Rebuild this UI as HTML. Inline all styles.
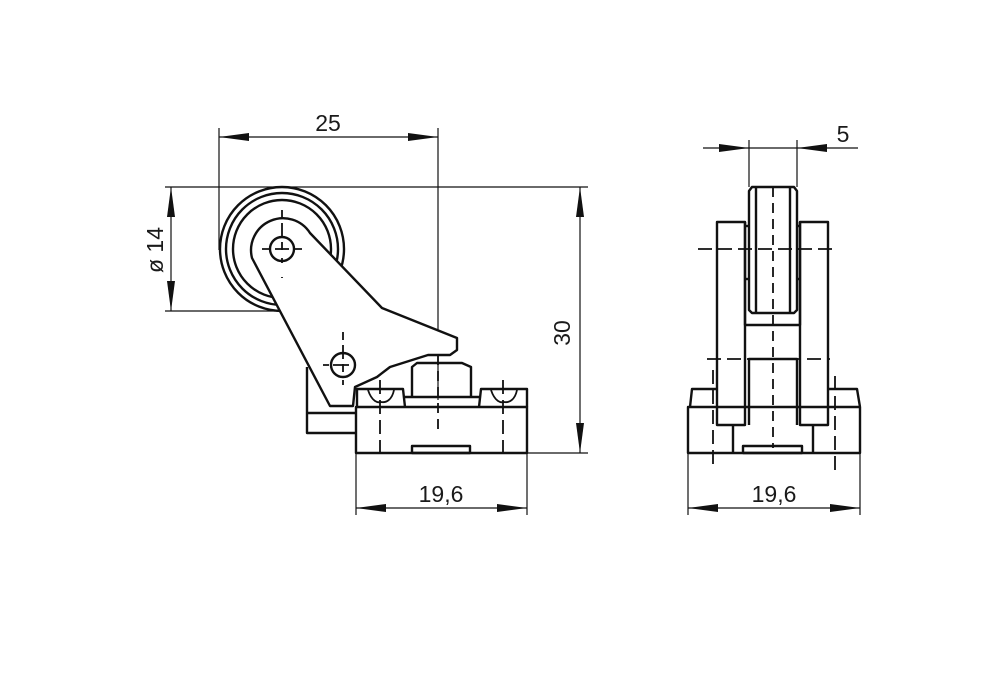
<!DOCTYPE html>
<html><head><meta charset="utf-8"><style>
html,body{margin:0;padding:0;background:#fff;}
svg{display:block;}
text{font-family:"Liberation Sans",sans-serif;font-size:23px;fill:#1a1a1a;}
</style></head><body>
<svg width="1000" height="697" viewBox="0 0 1000 697" xmlns="http://www.w3.org/2000/svg">
<defs>
<marker id="a" viewBox="0 0 30 8" refX="30" refY="4" markerWidth="30" markerHeight="8" markerUnits="userSpaceOnUse" orient="auto-start-reverse">
<path d="M0,0 L30,4 L0,8 Z" fill="#111"/>
</marker>
</defs>
<g fill="none" stroke="#111" stroke-width="1.2">
<line x1="219" y1="128" x2="219" y2="250"/>
<line x1="438" y1="128" x2="438" y2="400"/>
<line x1="219" y1="137" x2="438" y2="137" marker-start="url(#a)" marker-end="url(#a)"/>
<line x1="165" y1="187" x2="588" y2="187"/>
<line x1="165" y1="311" x2="275" y2="311"/>
<line x1="171" y1="187" x2="171" y2="311" marker-start="url(#a)" marker-end="url(#a)"/>
<line x1="527" y1="453" x2="588" y2="453"/>
<line x1="580" y1="187" x2="580" y2="453" marker-start="url(#a)" marker-end="url(#a)"/>
<line x1="356" y1="453" x2="356" y2="515"/>
<line x1="527" y1="453" x2="527" y2="515"/>
<line x1="356" y1="508" x2="527" y2="508" marker-start="url(#a)" marker-end="url(#a)"/>
<line x1="749" y1="140" x2="749" y2="187"/>
<line x1="797" y1="140" x2="797" y2="187"/>
<line x1="703" y1="148" x2="749" y2="148" marker-end="url(#a)"/>
<line x1="749" y1="148" x2="797" y2="148"/>
<line x1="858" y1="148" x2="797" y2="148" marker-end="url(#a)"/>
<line x1="688" y1="453" x2="688" y2="515"/>
<line x1="860" y1="453" x2="860" y2="515"/>
<line x1="688" y1="508" x2="860" y2="508" marker-start="url(#a)" marker-end="url(#a)"/>
</g>
<text x="328" y="131" text-anchor="middle">25</text>
<text x="441" y="502" text-anchor="middle">19,6</text>
<text x="774" y="502" text-anchor="middle">19,6</text>
<text x="843" y="142" text-anchor="middle">5</text>
<text transform="translate(570,333) rotate(-90)" text-anchor="middle">30</text>
<text transform="translate(163,250) rotate(-90)" text-anchor="middle">ø 14</text>

<g fill="none" stroke="#111" stroke-width="2.4" stroke-linejoin="round">
<circle cx="282" cy="249" r="62"/>
<circle cx="282" cy="249" r="56"/>
<circle cx="282" cy="249" r="49"/>
<path d="M252,258 A32,32 0 0 1 310,233 L382,308 L457,338 L457,350 L450,355 L428,355 L390,367 L377,377 L355,387 L353,406 L330,406 Z" fill="#fff"/>
<circle cx="282" cy="249" r="12"/>
<circle cx="343" cy="365" r="12"/>
<path d="M307,367 L307,433 L355,433 M307,413 L355,413"/>
<rect x="356" y="407" width="171" height="46"/>
<path d="M357,407 L357,389 L403,389 L405,407 M403,397 L479,397 M479,407 L481,389 L527,389 L527,407"/>
<path d="M412,397 L412,367 L417,363 L462,363 L471,367 L471,397"/>
<rect x="412" y="446" width="58" height="7"/>
<path d="M368,390 C372,402 378,403 381,402 C386,403 392,400 394,390 M491,390 C495,402 501,403 504,402 C509,403 515,400 517,390" stroke-width="1.8"/>
<path d="M752,187 L794,187 L797,191 L797,310 L794,313 L752,313 L749,310 L749,191 Z"/>
<line x1="756" y1="187" x2="756" y2="313"/>
<line x1="790" y1="187" x2="790" y2="313"/>
<path d="M745,222 L745,325 L800,325 L800,222"/>
<line x1="745" y1="226" x2="749" y2="226"/><line x1="797" y1="226" x2="800" y2="226"/>
<line x1="745" y1="279" x2="749" y2="279"/><line x1="797" y1="279" x2="800" y2="279"/>
<rect x="717" y="222" width="28" height="203"/>
<rect x="800" y="222" width="28" height="203"/>
<path d="M749,425 L749,359 L797,359 L797,425"/>
<path d="M688,407 L688,453 L860,453 L860,407 Z M690,407 L692,389 L717,389 M828,389 L857,389 L860,407"/>
<path d="M733,425 L733,453 M813,425 L813,453"/>
<rect x="743" y="446" width="59" height="7"/>
</g>
<g fill="none" stroke="#111" stroke-width="1.8" stroke-dasharray="14,6">
<line x1="262" y1="249" x2="304" y2="249" stroke-dasharray="8,5,14,5,8"/>
<line x1="282" y1="210" x2="282" y2="278" stroke-dasharray="8,5,14,5,8"/>
<line x1="323" y1="365" x2="356" y2="365" stroke-dasharray="6,4,16"/>
<line x1="343" y1="332" x2="343" y2="385" stroke-dasharray="8,5,14,5,8"/>
<line x1="438" y1="355" x2="438" y2="432" stroke-dasharray="10,6"/>
<line x1="380" y1="380" x2="380" y2="460"/>
<line x1="503" y1="380" x2="503" y2="460"/>
<line x1="698" y1="249" x2="838" y2="249"/>
<line x1="707" y1="359" x2="830" y2="359"/>
<line x1="773" y1="187" x2="773" y2="448" stroke-dasharray="10,6"/>
<line x1="713" y1="370" x2="713" y2="470"/>
<line x1="835" y1="376" x2="835" y2="470"/>
</g>
</svg>
</body></html>
